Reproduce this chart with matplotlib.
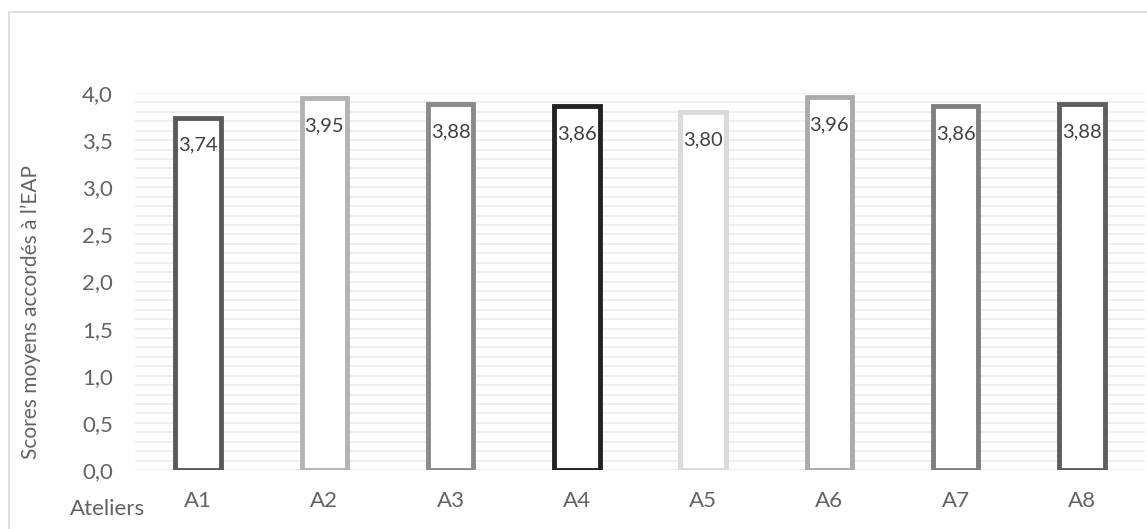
import matplotlib
matplotlib.use("Agg")
import matplotlib.pyplot as plt
from matplotlib.patches import Rectangle
from matplotlib.ticker import MultipleLocator, FuncFormatter

categories = ["A1", "A2", "A3", "A4", "A5", "A6", "A7", "A8"]
values = [3.74, 3.95, 3.88, 3.86, 3.80, 3.96, 3.86, 3.88]
labels = ["3,74", "3,95", "3,88", "3,86", "3,80", "3,96", "3,86", "3,88"]
edge_colors = ["#5a5a5a", "#b3b3b3", "#8a8a8a", "#232323", "#dadada", "#ababab", "#7f7f7f", "#5e5e5e"]

plt.rcParams['font.family'] = ['Lato', 'DejaVu Sans']
text_col = "#636363"

fig = plt.figure(figsize=(11.47, 5.29), dpi=100)
W, H = 1147, 529
ax = fig.add_axes([135 / W, 1 - 470 / H, (1145 - 135) / W, (470 - 93) / H])

x = list(range(len(categories)))
ax.bar(x, values, width=0.36, facecolor="white", edgecolor=edge_colors,
       linewidth=3.5, zorder=3)

for xi, v, lab in zip(x, values, labels):
    ax.annotate(lab, (xi, v), xytext=(0, -20), textcoords="offset points",
                ha="center", va="center", fontsize=14.5, color="#404040", zorder=4)

ax.set_xlim(-0.5, len(categories) - 0.5)
ax.set_ylim(0, 4.0)
ax.yaxis.set_major_locator(MultipleLocator(0.5))
ax.yaxis.set_minor_locator(MultipleLocator(0.1))
ax.yaxis.set_major_formatter(FuncFormatter(lambda v, p: f"{v:.1f}".replace(".", ",")))
ax.grid(which="both", axis="y", color="#eeeeee", linewidth=1.3, zorder=0)
ax.set_axisbelow(True)
for s in ax.spines.values():
    s.set_visible(False)
ax.tick_params(axis="both", which="both", length=0)
ax.tick_params(axis="y", labelsize=16, labelcolor=text_col, pad=16)
ax.tick_params(axis="x", labelsize=16, labelcolor=text_col, pad=15)
ax.set_xticks(x)
ax.set_xticklabels(categories)

fig.text(31 / W, 1 - 312 / H, "Scores moyens accordés à l\u2019EAP", rotation=90,
         ha="center", va="center", fontsize=15, color=text_col)

fig.text(108 / W, 1 - 509 / H, "Ateliers", ha="center", va="center",
         fontsize=16, color=text_col)

fig.patches.append(Rectangle((9 / W, -0.05), 1.2, (1 - 12 / H) + 0.05,
                             transform=fig.transFigure, fill=False,
                             edgecolor="#d9d9d9", linewidth=1.2))

fig.savefig("out.png", dpi=100)
